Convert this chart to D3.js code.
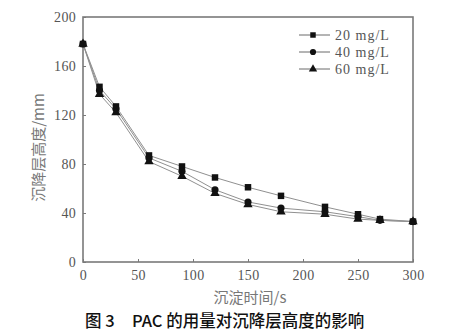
<!DOCTYPE html>
<html>
<head>
<meta charset="utf-8">
<script src="https://cdn.jsdelivr.net/npm/d3@7/dist/d3.min.js"></script>
<style>
  html, body { margin: 0; padding: 0; background: #fff; }
  svg { display: block; }
</style>
</head>
<body>
<svg id="chart" width="455" height="334"></svg>
<script>
// Settling time (s)
const times = [0, 15, 30, 60, 90, 120, 150, 180, 220, 250, 270, 300];
// Settled layer height (mm) for each PAC dose
const h20 = [178, 143, 127, 87, 78, 69, 61, 54, 45, 39, 35, 33];
const h40 = [178, 140, 125, 85, 74, 59, 49, 44, 41, 37, 34, 33];
const h60 = [178, 137, 122, 82, 70, 56, 47, 41, 39, 35, 34, 33];
const seriesNames = ["20 mg/L", "40 mg/L", "60 mg/L"];
const seriesSymbols = ["square", "circle", "triangle"];
const xTicks = [0, 50, 100, 150, 200, 250, 300];
const yTicks = [0, 40, 80, 120, 160, 200];
const xTitle = "沉淀时间/s";
const yTitle = "沉降层高度/mm";
const captionNo = "图 3";
const captionText = "PAC 的用量对沉降层高度的影响";

const svg = d3.select("#chart");
const L = 83, R = 413, T = 17, B = 262;
const x = d3.scaleLinear().domain([0, 300]).range([L, R]);
const y = d3.scaleLinear().domain([0, 200]).range([B, T]);

const numFont = "'Liberation Serif', 'DejaVu Serif', serif";
const cjkFont = "'Noto Sans CJK SC', sans-serif";
const axisColor = "#7a7a7a";
const labelColor = "#555";

// Axes with short inward ticks
const xAxis = svg.append("g").attr("transform", `translate(0,${B})`)
  .call(d3.axisBottom(x).tickValues(xTicks).tickSizeInner(-3).tickSizeOuter(0).tickPadding(8));
const yAxis = svg.append("g").attr("transform", `translate(${L},0)`)
  .call(d3.axisLeft(y).tickValues(yTicks).tickSizeInner(-3).tickSizeOuter(0).tickPadding(7));
[xAxis, yAxis].forEach(g => {
  g.select(".domain").remove();
  g.selectAll(".tick line").attr("stroke", axisColor).attr("stroke-width", 1);
  g.selectAll(".tick text").attr("fill", labelColor)
    .style("font-family", numFont).style("font-size", "14px").style("letter-spacing", "0.3px");
});

// Frame around the plot area
svg.append("rect")
  .attr("x", L).attr("y", T).attr("width", R - L).attr("height", B - T)
  .attr("fill", "none").attr("stroke", axisColor).attr("stroke-width", 1.6);

const data = [h20, h40, h60];
const line = d3.line().x((d, i) => x(times[i])).y(d => y(d));
const symType = { square: d3.symbolSquare, circle: d3.symbolCircle, triangle: d3.symbolTriangle };
const symSize = { square: 42, circle: 40, triangle: 38 };

data.forEach(vals => {
  svg.append("path").datum(vals).attr("d", line)
    .attr("fill", "none").attr("stroke", "#909090").attr("stroke-width", 1);
});
data.forEach((vals, k) => {
  const s = seriesSymbols[k];
  svg.append("g").selectAll("path").data(vals).join("path")
    .attr("transform", (d, i) => `translate(${x(times[i])},${y(d)})`)
    .attr("d", d3.symbol().type(symType[s]).size(symSize[s]))
    .attr("fill", "#111");
});

// Legend
const leg = svg.append("g");
seriesNames.forEach((name, k) => {
  const ly = 35 + k * 17;
  leg.append("line").attr("x1", 299).attr("x2", 330).attr("y1", ly).attr("y2", ly)
    .attr("stroke", "#6a6a6a").attr("stroke-width", 1);
  const s = seriesSymbols[k];
  leg.append("path").attr("transform", `translate(313,${ly})`)
    .attr("d", d3.symbol().type(symType[s]).size(30)).attr("fill", "#111");
  leg.append("text").attr("x", 335).attr("y", ly).attr("dy", "0.35em")
    .attr("fill", labelColor).style("font-family", numFont).style("font-size", "14px")
    .style("letter-spacing", "1px").text(name);
});

// Axis titles
svg.append("text").attr("x", (L + R) / 2 + 2).attr("y", 298).attr("dy", "0.35em")
  .attr("text-anchor", "middle").attr("fill", "#777")
  .style("font-family", cjkFont).style("font-size", "15px").text(xTitle);
svg.append("text").attr("transform", `translate(39,${(T + B) / 2 + 8}) rotate(-90)`)
  .attr("dy", "0.35em").attr("text-anchor", "middle").attr("fill", "#777")
  .style("font-family", cjkFont).style("font-size", "15px").text(yTitle);

// Figure caption
const cap = svg.append("g").attr("fill", "#111")
  .style("font-family", cjkFont).style("font-size", "16.5px").style("font-weight", "500");
cap.append("text").attr("x", 85).attr("y", 321).attr("dy", "0.35em").text(captionNo);
cap.append("text").attr("x", 132).attr("y", 321).attr("dy", "0.35em").text(captionText);
</script>
</body>
</html>
